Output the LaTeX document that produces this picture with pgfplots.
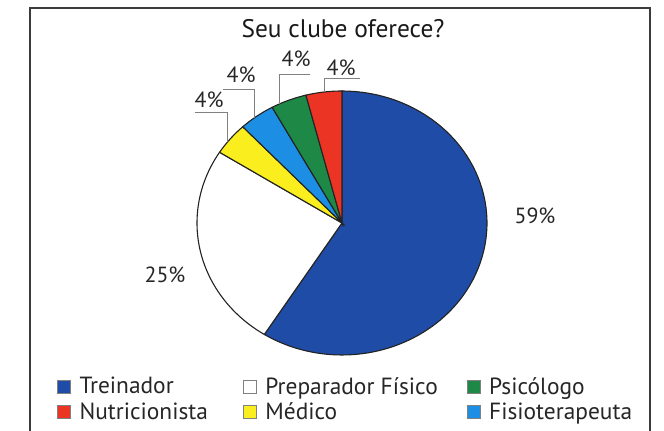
\documentclass[border=0pt]{standalone}
\usepackage{fontspec}
\setmainfont{PT Sans}
\usepackage{pgfplots}
\pgfplotsset{compat=1.18}
\definecolor{cTrein}{RGB}{30,76,166}
\definecolor{cPrep}{RGB}{255,255,255}
\definecolor{cMed}{RGB}{250,238,30}
\definecolor{cFisio}{RGB}{28,142,228}
\definecolor{cPsi}{RGB}{30,136,70}
\definecolor{cNutri}{RGB}{236,52,36}
\definecolor{edge}{RGB}{35,35,35}
\definecolor{frame}{RGB}{60,60,60}
\begin{document}
\begin{tikzpicture}
\begin{axis}[
  width=664bp, height=431bp, scale only axis,
  xmin=-2.3586, xmax=2.2207, ymin=-1.5758, ymax=1.6894,
  hide axis, clip=false,
  legend columns=3,
  legend cell align=left,
  legend style={draw=none, fill=none, inner sep=0pt,
    at={(rel axis cs:0.0858,0.1276)}, anchor=north west,
    font=\fontsize{23.5}{27}\selectfont,
    text=black!85,
    nodes={inner sep=1bp},
    row sep=5bp,
    /tikz/every odd column/.append style={column sep=8bp},
    /tikz/column 2/.append style={column sep=34bp},
    /tikz/column 4/.append style={column sep=28bp}},
  legend image code/.code={\draw[#1] (0bp,-6.5bp) rectangle (13bp,6.5bp);},
  pie/.style={draw=edge, line width=1.1bp, samples=80, forget plot},
]
% slices clockwise from the top, cumulative percentages
\addplot[pie, fill=cTrein, domain=0:59]  ({cos(90-3.6*x)},{sin(90-3.6*x)}) -- (axis cs:0,0) -- cycle;
\addplot[pie, fill=cPrep,  domain=59:84] ({cos(90-3.6*x)},{sin(90-3.6*x)}) -- (axis cs:0,0) -- cycle;
\addplot[pie, fill=cMed,   domain=84:88] ({cos(90-3.6*x)},{sin(90-3.6*x)}) -- (axis cs:0,0) -- cycle;
\addplot[pie, fill=cFisio, domain=88:92] ({cos(90-3.6*x)},{sin(90-3.6*x)}) -- (axis cs:0,0) -- cycle;
\addplot[pie, fill=cPsi,   domain=92:96] ({cos(90-3.6*x)},{sin(90-3.6*x)}) -- (axis cs:0,0) -- cycle;
\addplot[pie, fill=cNutri, domain=96:100] ({cos(90-3.6*x)},{sin(90-3.6*x)}) -- (axis cs:0,0) -- cycle;

\addlegendimage{fill=cTrein, draw=gray}\addlegendentry{Treinador}
\addlegendimage{fill=cPrep, draw=gray}\addlegendentry{Preparador Físico}
\addlegendimage{fill=cPsi, draw=gray}\addlegendentry{Psicólogo}
\addlegendimage{fill=cNutri, draw=gray}\addlegendentry{Nutricionista}
\addlegendimage{fill=cMed, draw=gray}\addlegendentry{Médico}
\addlegendimage{fill=cFisio, draw=gray}\addlegendentry{Fisioterapeuta}

% frame
\draw[frame, line width=2bp] (rel axis cs:0.0452,0) -- (rel axis cs:0.0452,0.9814) -- (rel axis cs:0.9789,0.9814) -- (rel axis cs:0.9789,0);
% title
\node[font=\fontsize{25.5}{30}\selectfont, text=black!90] at (rel axis cs:0.5166,0.9327) {Seu clube oferece?};
% leaders
\draw[gray, line width=0.8bp] (rel axis cs:0.2937,0.7401) -- (rel axis cs:0.3419,0.7401) -- (rel axis cs:0.3419,0.6705);
\draw[gray, line width=0.8bp] (rel axis cs:0.3358,0.7935) -- (rel axis cs:0.3825,0.7935) -- (rel axis cs:0.3825,0.7262);
\draw[gray, line width=0.8bp] (rel axis cs:0.4669,0.8283) -- (rel axis cs:0.4202,0.8283) -- (rel axis cs:0.4202,0.7587);
\draw[gray, line width=0.8bp] (rel axis cs:0.5422,0.8190) -- (rel axis cs:0.4880,0.8190) -- (rel axis cs:0.4880,0.7865);
% labels
\begin{scope}[every node/.style={font=\fontsize{22}{26}\selectfont, text=black!85}]
\node at (rel axis cs:0.8057,0.4988) {59\%};
\node at (rel axis cs:0.2485,0.3619) {25\%};
\node at (rel axis cs:0.3148,0.7680) {4\%};
\node at (rel axis cs:0.3630,0.8260) {4\%};
\node at (rel axis cs:0.4458,0.8630) {4\%};
\node at (rel axis cs:0.5136,0.8422) {4\%};
\end{scope}
\end{axis}
\pgfresetboundingbox
\path[use as bounding box] (current axis.south west) rectangle (current axis.north east);
\end{tikzpicture}
\end{document}
